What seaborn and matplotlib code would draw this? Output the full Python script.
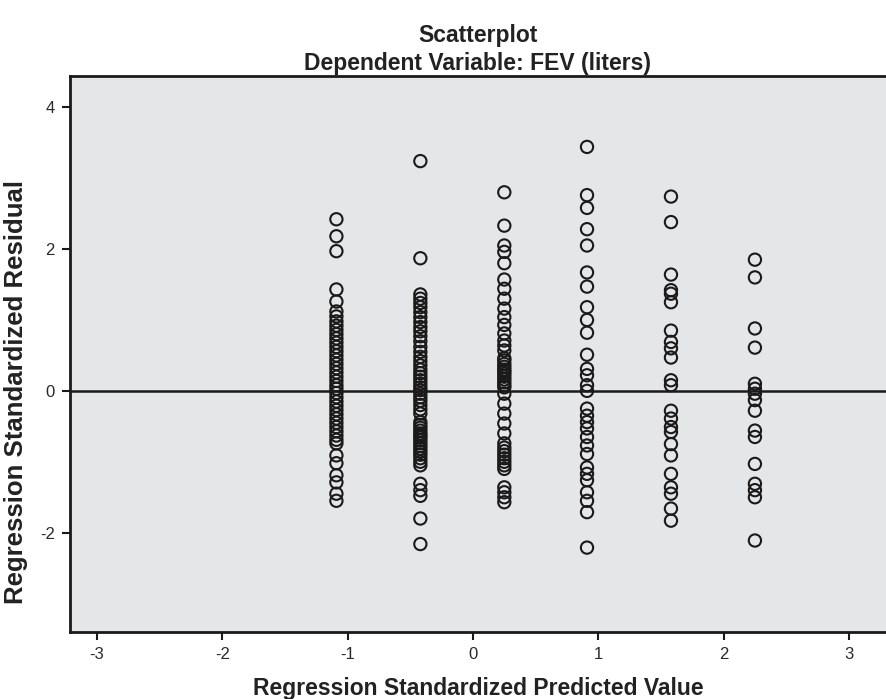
import numpy as np
import pandas as pd
import matplotlib
matplotlib.use("Agg")
import matplotlib.pyplot as plt
import seaborn as sns

# Standardized predicted values (one per distinct group)
pred_levels = [-1.09, -0.42, 0.25, 0.91, 1.58, 2.25]

# Standardized residuals observed at each predicted level
resid_g1 = [2.42, 2.18, 1.97, 1.43, 1.26,
            1.12, 1.05, 0.98, 0.92, 0.86, 0.80, 0.74, 0.68, 0.62, 0.56,
            0.50, 0.44, 0.38, 0.32, 0.26, 0.20, 0.14, 0.08, 0.03, -0.03,
            -0.09, -0.15, -0.21, -0.27, -0.33, -0.39, -0.45, -0.51, -0.57,
            -0.63, -0.69, -0.74,
            -0.91, -1.02, -1.19, -1.29, -1.45, -1.55]
resid_g2 = [3.24, 1.87, 1.36, 1.30, 1.24, 1.18, 1.11, 1.04, 0.97, 0.90,
            0.84, 0.77, 0.70, 0.62, 0.55, 0.48, 0.42, 0.36, 0.30, 0.25,
            0.20, 0.15, 0.10, 0.05, 0.01, -0.04, -0.09, -0.14, -0.20,
            -0.26, -0.32, -0.44, -0.48, -0.52, -0.56, -0.60, -0.63, -0.66,
            -0.70, -0.74, -0.78, -0.82, -0.86, -0.90, -0.95, -1.00, -1.05,
            -1.31, -1.40, -1.48, -1.80, -2.16]
resid_g3 = [2.80, 2.33, 2.05, 1.96, 1.80, 1.57, 1.44, 1.30, 1.16, 1.04,
            0.93, 0.81, 0.71, 0.64, 0.57, 0.46, 0.43, 0.38, 0.34, 0.30,
            0.27, 0.24, 0.20, 0.16, 0.12, 0.08, 0.05, -0.04, -0.18, -0.32,
            -0.46, -0.60, -0.74, -0.80, -0.85, -0.90, -0.95, -1.00, -1.05,
            -1.10, -1.36, -1.43, -1.50, -1.57]
resid_g4 = [3.44, 2.76, 2.58, 2.28, 2.05, 1.67, 1.47, 1.18, 1.00, 0.82,
            0.51, 0.31, 0.22, 0.08, 0.00, -0.25, -0.35, -0.44, -0.53,
            -0.65, -0.77, -0.89, -1.08, -1.17, -1.26, -1.43, -1.55, -1.71,
            -2.21]
resid_g5 = [2.74, 2.38, 1.64, 1.42, 1.37, 1.25, 0.85, 0.69, 0.60, 0.47,
            0.15, 0.08, -0.28, -0.39, -0.51, -0.58, -0.75, -0.91, -1.17,
            -1.36, -1.45, -1.66, -1.83]
resid_g6 = [1.85, 1.60, 0.88, 0.61, 0.10, 0.03, -0.04, -0.13, -0.28,
            -0.56, -0.65, -1.03, -1.31, -1.40, -1.50, -2.11]

x_ticks = [-3, -2, -1, 0, 1, 2, 3]
y_ticks = [-2, 0, 2, 4]

groups = [resid_g1, resid_g2, resid_g3, resid_g4, resid_g5, resid_g6]
df = pd.DataFrame({
    "pred": np.concatenate([[lv] * len(g) for lv, g in zip(pred_levels, groups)]),
    "resid": np.concatenate(groups),
})

sns.set_theme(style="white")
plt.rcParams["font.family"] = ["Liberation Sans", "DejaVu Sans"]

W, H = 887, 699
fig = plt.figure(figsize=(W / 100, H / 100), dpi=100)
fig.patch.set_facecolor("white")

# axes box in pixel terms: left 70, right 890 (runs past the figure edge), top 76, bottom 632
left, right, top, bottom = 70, 890, 76, 632
ax = fig.add_axes([left / W, 1 - bottom / H, (right - left) / W, (bottom - top) / H])
ax.set_facecolor("#e5e6e8")

sns.scatterplot(data=df, x="pred", y="resid", ax=ax, marker="o",
                facecolor="none", edgecolor="#1a1a1a", s=78, linewidth=1.5,
                zorder=3)

ax.axhline(0, color="#1a1a1a", lw=1.8, zorder=2)

ax.set_xlim(-3.216, 3.328)
ax.set_ylim(-3.4, 4.44)
ax.set_xticks(x_ticks)
ax.set_yticks(y_ticks)
ax.set_xticklabels([str(t) for t in x_ticks])
ax.set_yticklabels([str(t) for t in y_ticks])

for side in ["left", "top", "bottom", "right"]:
    ax.spines[side].set_color("#1a1a1a")
    ax.spines[side].set_linewidth(2.0)

ax.tick_params(axis="both", which="major", direction="out", length=6, width=1.5,
               color="#1a1a1a", labelsize=12, labelcolor="#2a2a2a", pad=5,
               bottom=True, left=True)

ax.set_xlabel("")
ax.set_ylabel("")

label_kw = dict(fontsize=16.5, fontweight="bold", color="#222222")
fig.text(478 / W, 1 - 42 / H, "Scatterplot", ha="center", va="baseline", **label_kw)
fig.text(478 / W, 1 - 70 / H, "Dependent Variable: FEV (liters)", ha="center",
         va="baseline", **label_kw)
fig.text(478 / W, 1 - 695 / H, "Regression Standardized Predicted Value",
         ha="center", va="baseline", **label_kw)
fig.text(16 / W, 1 - 392 / H, "Regression Standardized Residual", ha="center",
         va="center", rotation=90, fontsize=18.5, fontweight="bold",
         color="#222222")

fig.savefig("out.png", dpi=100, facecolor="white")
